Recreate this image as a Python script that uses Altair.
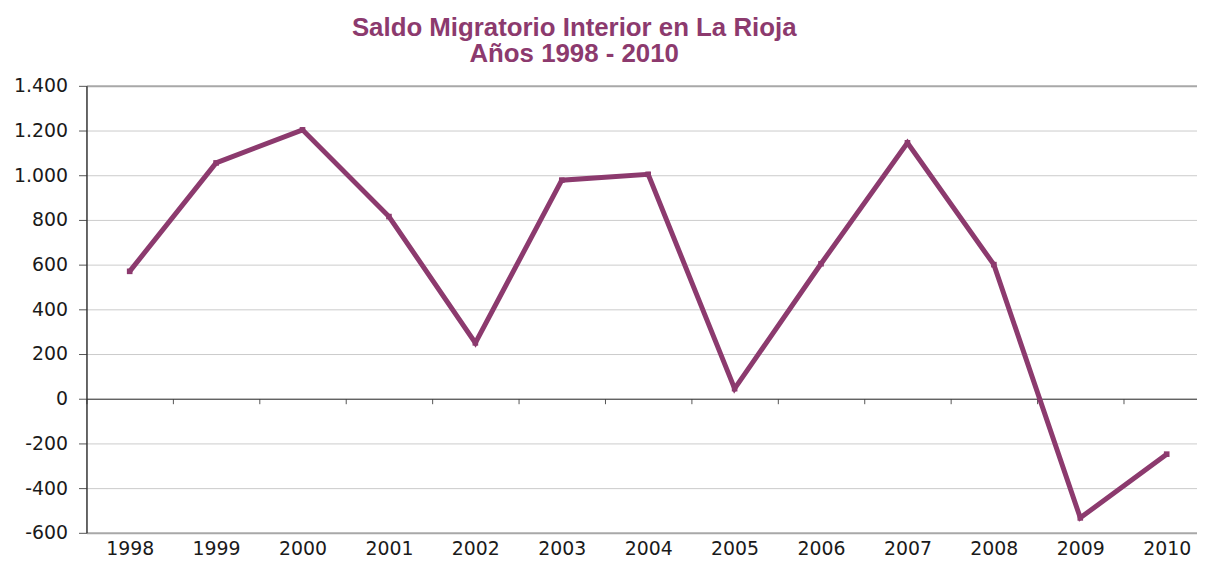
import altair as alt
import pandas as pd

# ---- data ----
years = ["1998", "1999", "2000", "2001", "2002", "2003", "2004",
         "2005", "2006", "2007", "2008", "2009", "2010"]
saldo = [570, 1055, 1203, 815, 250, 978, 1004, 45, 604, 1145, 600, -533, -248]
y_ticks = [-600, -400, -200, 0, 200, 400, 600, 800, 1000, 1200, 1400]
title_lines = ["Saldo Migratorio Interior en La Rioja", "Años 1998 - 2010"]

df = pd.DataFrame({"year": years, "saldo": saldo})

purple = "#8C3A6E"
label_font = "DejaVu Sans"

label_expr = "replace(replace(format(datum.value, ','), ',', '.'), '\u2212', '-')"

chart = alt.Chart(df).mark_line(
    color=purple,
    strokeWidth=5,
    strokeJoin="miter",
    point=alt.OverlayMarkDef(shape="square", size=32, filled=True, color=purple),
).encode(
    x=alt.X(
        "year:O",
        sort=years,
        title=None,
        scale=alt.Scale(type="band", paddingInner=0, paddingOuter=0, rangeMin=0, rangeMax=1131),
        axis=alt.Axis(
            orient="bottom",
            offset=-135,
            domain=True,
            domainColor="#333333",
            domainWidth=1,
            ticks=True,
            tickBand="extent",
            tickSize=5,
            tickColor="#555555",
            tickWidth=1,
            labelAngle=0,
            labelPadding=137,
            labelFont=label_font,
            labelFontSize=19,
            labelColor="#1a1a1a",
            grid=False,
        ),
    ),
    y=alt.Y(
        "saldo:Q",
        title=None,
        scale=alt.Scale(domain=[-600, 1400], nice=False, zero=False),
        axis=alt.Axis(
            values=y_ticks,
            labelExpr=label_expr,
            labelFont=label_font,
            labelFontSize=19,
            labelColor="#1a1a1a",
            labelPadding=11,
            tickSize=8,
            tickColor="#555555",
            domainColor="#333333",
            domainWidth=1.5,
            grid=True,
            gridColor={"condition": {"test": "datum.value == 1400 || datum.value == -600",
                                     "value": "#a8a8a8"},
                       "value": "#cccccc"},
            gridWidth={"condition": {"test": "datum.value == 1400 || datum.value == -600",
                                     "value": 2},
                       "value": 1},
        ),
    ),
).properties(
    width=1118,
    height=450,
    title=alt.TitleParams(
        text=title_lines,
        anchor="start",
        frame="group",
        align="center",
        dx=491,
        offset=10,
        font="Liberation Sans",
        fontSize=26,
        fontWeight="bold",
        color=purple,
        lineHeight=26,
    ),
    autosize=alt.AutoSizeParams(type="none"),
    padding={"left": 79, "top": 76.5, "right": 0, "bottom": 25.5},
).configure_view(stroke=None)

chart.save("out.html", embed_options={"renderer": "svg", "actions": False})
